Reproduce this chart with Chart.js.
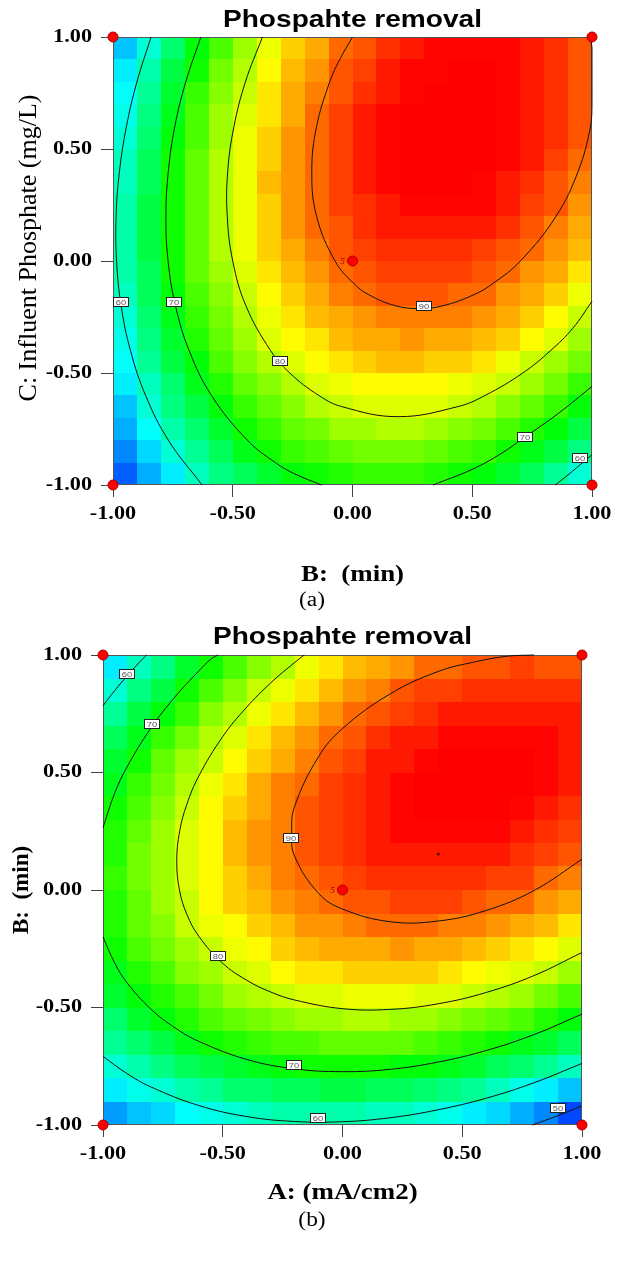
<!DOCTYPE html>
<html>
<head>
<meta charset="utf-8">
<script src="https://cdn.jsdelivr.net/npm/chart.js@4.4.1/dist/chart.umd.min.js"></script>
<style>
  html, body { margin: 0; padding: 0; background: #fff; }
  .panel { position: absolute; left: 0; }
  #wrapA { top: 0; }
  #wrapB { top: 620px; }
</style>
</head>
<body>
<div class="panel" id="wrapA"><canvas id="chartA" width="624" height="620"></canvas></div>
<div class="panel" id="wrapB"><canvas id="chartB" width="624" height="643"></canvas></div>
<script>
// ---- data (coded factor levels -1..1) ----
const tickVals = [-1, -0.5, 0, 0.5, 1];
const tickLabels = ['-1.00', '-0.50', '0.00', '0.50', '1.00'];
// centres of the 20 x 20 grid cells, same along both axes
const cellCenters = [-0.95, -0.85, -0.75, -0.65, -0.55, -0.45, -0.35, -0.25, -0.15, -0.05,
                      0.05, 0.15, 0.25, 0.35, 0.45, 0.55, 0.65, 0.75, 0.85, 0.95];

// (a) phosphate removal %, rows from top (C = 0.95) to bottom (C = -0.95), columns B = -0.95 .. 0.95
const removalA = [
  [55, 60, 65, 70, 74, 78, 82, 85, 87, 90, 91, 93, 94, 95, 95, 95, 95, 94, 93, 91],
  [57, 62, 67, 71, 76, 79, 83, 86, 88, 91, 92, 94, 95, 95, 96, 96, 95, 94, 93, 91],
  [58, 63, 68, 73, 77, 80, 84, 87, 89, 91, 93, 94, 95, 96, 96, 96, 95, 94, 93, 91],
  [59, 64, 69, 74, 78, 81, 84, 87, 90, 92, 94, 95, 96, 96, 96, 96, 95, 94, 93, 91],
  [60, 65, 70, 74, 78, 82, 85, 88, 90, 92, 94, 95, 96, 96, 96, 96, 95, 94, 93, 91],
  [61, 66, 71, 75, 79, 82, 85, 88, 90, 92, 94, 95, 96, 96, 96, 96, 95, 94, 92, 90],
  [61, 66, 71, 75, 79, 82, 86, 88, 90, 92, 94, 95, 96, 96, 96, 95, 94, 93, 91, 89],
  [62, 67, 71, 75, 79, 82, 85, 88, 90, 92, 93, 94, 95, 95, 95, 95, 94, 92, 91, 88],
  [62, 67, 71, 75, 79, 82, 85, 88, 90, 91, 93, 94, 94, 94, 94, 94, 93, 91, 89, 87],
  [62, 67, 71, 75, 79, 82, 85, 87, 89, 91, 92, 93, 93, 93, 93, 92, 91, 90, 88, 86],
  [62, 66, 71, 75, 78, 81, 84, 86, 88, 90, 91, 92, 92, 92, 92, 91, 90, 88, 87, 84],
  [61, 66, 70, 74, 77, 80, 83, 85, 87, 89, 90, 91, 91, 91, 90, 90, 88, 87, 85, 82],
  [60, 65, 69, 73, 76, 79, 82, 84, 86, 87, 88, 89, 89, 89, 89, 88, 87, 85, 83, 80],
  [59, 64, 68, 72, 75, 78, 81, 83, 84, 86, 87, 87, 88, 87, 87, 86, 85, 83, 81, 78],
  [58, 63, 67, 70, 74, 77, 79, 81, 83, 84, 85, 86, 86, 85, 85, 84, 82, 80, 78, 76],
  [57, 61, 65, 69, 72, 75, 77, 79, 81, 82, 83, 83, 83, 83, 82, 81, 80, 78, 76, 73],
  [55, 60, 64, 67, 70, 73, 75, 77, 79, 80, 81, 81, 81, 81, 80, 79, 77, 75, 73, 70],
  [54, 58, 62, 65, 68, 71, 73, 75, 76, 78, 78, 79, 79, 78, 77, 76, 74, 72, 70, 67],
  [52, 56, 60, 63, 66, 69, 71, 73, 74, 75, 76, 76, 76, 75, 74, 73, 71, 69, 67, 64],
  [50, 54, 57, 61, 64, 66, 68, 70, 71, 72, 73, 73, 73, 72, 71, 70, 68, 66, 63, 60]
];

// (b) rows from top (B = 0.95) to bottom (B = -0.95), columns A = -0.95 .. 0.95
const removalB = [
  [57, 61, 64, 68, 71, 74, 77, 79, 82, 84, 86, 87, 88, 90, 90, 91, 91, 92, 91, 91],
  [60, 64, 67, 71, 74, 77, 80, 82, 84, 86, 88, 89, 91, 92, 92, 93, 93, 93, 93, 93],
  [63, 67, 70, 73, 77, 79, 82, 84, 86, 88, 90, 91, 92, 93, 94, 94, 94, 94, 94, 94],
  [66, 69, 73, 76, 79, 81, 84, 86, 88, 90, 91, 93, 94, 94, 95, 95, 95, 95, 95, 94],
  [68, 71, 75, 78, 80, 83, 85, 87, 89, 91, 92, 94, 94, 95, 96, 96, 96, 96, 95, 94],
  [69, 73, 76, 79, 82, 84, 87, 89, 90, 92, 93, 94, 95, 96, 96, 96, 96, 96, 95, 94],
  [71, 74, 77, 80, 83, 85, 87, 89, 91, 92, 93, 94, 95, 96, 96, 96, 96, 95, 94, 93],
  [72, 75, 78, 81, 83, 86, 88, 89, 91, 92, 93, 94, 95, 95, 95, 95, 95, 94, 93, 92],
  [72, 76, 78, 81, 83, 86, 88, 89, 91, 92, 93, 94, 94, 94, 94, 94, 94, 93, 92, 91],
  [73, 76, 78, 81, 83, 85, 87, 89, 90, 91, 92, 93, 93, 93, 93, 93, 92, 92, 90, 89],
  [72, 75, 78, 80, 83, 85, 86, 88, 89, 90, 91, 91, 92, 92, 92, 91, 90, 90, 88, 87],
  [72, 75, 77, 80, 82, 83, 85, 86, 88, 88, 89, 90, 90, 90, 89, 89, 88, 87, 86, 84],
  [71, 74, 76, 78, 80, 82, 83, 85, 86, 87, 87, 87, 88, 87, 87, 86, 85, 84, 83, 81],
  [69, 72, 74, 77, 78, 80, 81, 83, 84, 84, 85, 85, 85, 85, 84, 83, 82, 81, 80, 78],
  [68, 70, 72, 74, 76, 78, 79, 80, 81, 81, 82, 82, 82, 81, 81, 80, 79, 78, 76, 74],
  [65, 68, 70, 72, 74, 75, 76, 77, 78, 78, 79, 79, 78, 78, 77, 76, 75, 74, 72, 70],
  [63, 65, 67, 69, 71, 72, 73, 74, 74, 75, 75, 75, 75, 74, 73, 72, 71, 69, 68, 66],
  [60, 62, 64, 66, 67, 68, 69, 70, 71, 71, 71, 71, 70, 70, 69, 68, 66, 65, 63, 61],
  [57, 59, 60, 62, 63, 65, 65, 66, 66, 67, 67, 66, 66, 65, 64, 63, 61, 59, 57, 55],
  [53, 55, 56, 58, 59, 60, 61, 62, 62, 62, 62, 61, 61, 60, 59, 57, 56, 54, 52, 49]
];

// contour lines, [x, y] in coded units
const a60left = [[-0.841, 1], [-0.9, 0.8], [-0.944, 0.6], [-0.973, 0.4], [-0.987, 0.2], [-0.985, 0],
                 [-0.966, -0.2], [-0.927, -0.4], [-0.864, -0.6], [-0.769, -0.8], [-0.628, -1]];
const a60right = [[0.846, -1], [0.9, -0.955], [0.95, -0.91], [1.0, -0.865]];
const a70left = [[-0.633, 1], [-0.696, 0.8], [-0.742, 0.6], [-0.769, 0.4], [-0.779, 0.2], [-0.77, 0],
                 [-0.739, -0.2], [-0.682, -0.4], [-0.589, -0.6], [-0.439, -0.8], [-0.322, -0.9],
                 [-0.242, -0.95], [-0.129, -1]];
const a70right = [[0.336, -1], [0.5, -0.93], [0.62, -0.86], [0.72, -0.786], [0.86, -0.68], [1.0, -0.56]];
const a80 = [[-0.376, 1], [-0.447, 0.8], [-0.495, 0.6], [-0.521, 0.4], [-0.523, 0.2], [-0.5, 0],
             [-0.445, -0.2], [-0.342, -0.4], [-0.262, -0.5], [-0.141, -0.6], [-0.045, -0.65],
             [0.19, -0.695], [0.44, -0.65], [0.554, -0.6], [0.711, -0.5], [0.827, -0.4],
             [0.92, -0.3], [1.0, -0.18]];
const a90 = [[0, 1], [-0.053, 0.9], [-0.095, 0.8], [-0.15, 0.6], [-0.17, 0.4], [-0.15, 0.2],
             [-0.073, 0], [0.005, -0.1], [0.067, -0.15], [0.18, -0.2], [0.28, -0.212],
             [0.377, -0.2], [0.508, -0.15], [0.587, -0.1], [0.701, 0], [0.85, 0.2],
             [0.942, 0.4], [0.994, 0.6], [1.0, 0.7], [1.0, 0.95], [0.99, 1]];
const tagsA = [[-0.968, -0.184, '60'], [-0.746, -0.184, '70'], [-0.304, -0.446, '80'],
               [0.299, -0.2, '90'], [0.72, -0.786, '70'], [0.95, -0.88, '60']];

const b60top = [[-0.818, 1], [-0.85, 0.967], [-0.9, 0.91], [-0.95, 0.85], [-1, 0.784]];
const b60bottom = [[-1, -0.708], [-0.9, -0.781], [-0.8, -0.838], [-0.6, -0.917], [-0.4, -0.964],
                   [-0.2, -0.985], [0, -0.986], [0.2, -0.969], [0.4, -0.935], [0.6, -0.886],
                   [0.8, -0.82], [1, -0.738]];
const b70top = [[-0.52, 1], [-0.55, 0.982], [-0.6, 0.932], [-0.7, 0.821], [-0.8, 0.689],
                [-0.9, 0.523], [-0.95, 0.415], [-1, 0.266]];
const b70bottom = [[-1, -0.2], [-0.95, -0.313], [-0.9, -0.394], [-0.8, -0.507], [-0.7, -0.586],
                   [-0.6, -0.644], [-0.4, -0.721], [-0.2, -0.761], [0, -0.773], [0.2, -0.763],
                   [0.4, -0.732], [0.6, -0.683], [0.8, -0.615], [1, -0.528]];
const b80 = [[-0.16, 1], [-0.2, 0.968], [-0.3, 0.881], [-0.4, 0.778], [-0.5, 0.653], [-0.6, 0.485],
             [-0.65, 0.364], [-0.68, 0.25], [-0.692, 0.12], [-0.68, -0.004], [-0.65, -0.103],
             [-0.6, -0.197], [-0.5, -0.312], [-0.4, -0.384], [-0.3, -0.434], [-0.2, -0.468],
             [0, -0.505], [0.2, -0.508], [0.4, -0.484], [0.6, -0.436], [0.8, -0.364], [1, -0.266]];
const b90 = [[0.8, 1.0], [0.69, 0.995], [0.55, 0.97], [0.4, 0.93], [0.2, 0.835], [0, 0.687],
             [-0.1, 0.567], [-0.2, 0.356], [-0.212, 0.25], [-0.2, 0.144], [-0.1, -0.014],
             [0, -0.081], [0.2, -0.135], [0.4, -0.132], [0.6, -0.087], [0.8, -0.002], [1, 0.131]];
const b50 = [[0.793, -1], [0.9, -0.96], [1, -0.919]];
const tagsB = [[-0.9, 0.919, '60'], [-0.797, 0.706, '70'], [-0.215, 0.22, '90'], [-0.519, -0.28, '80'],
               [-0.201, -0.745, '70'], [-0.101, -0.97, '60'], [0.9, -0.926, '50']];

// design points (factorial corners + centre) and the number of centre runs
const designPoints = [[-1, -1], [1, -1], [-1, 1], [1, 1], [0, 0]];
const centerRuns = '5';
const optimumB = [[0.4, 0.153]];

const SERIF = '"Liberation Serif", "Times New Roman", serif';
const SANS = '"Liberation Sans", Arial, sans-serif';
const TEXT_STRETCH = 1.17;   // the source figure's lettering is widened horizontally

function pts(list) {
  return list.map(([x, y]) => ({ x, y }));
}

// blue (low) -> cyan -> green -> yellow -> red (high)
function shade(v, lo, hi) {
  const t = Math.min(1, Math.max(0, (v - lo) / (hi - lo)));
  return 'hsl(' + Math.round(230 * (1 - t)) + ', 100%, 50%)';
}

// widen upright text on this canvas (rotated axis titles are left alone)
function widenText(ctx, k) {
  const plain = ctx.fillText;
  ctx.fillText = function (text, x, y) {
    const m = this.getTransform();
    if (m.b !== 0 || m.c !== 0) return plain.call(this, text, x, y);
    this.save();
    this.translate(x, y);
    this.scale(k, 1);
    plain.call(this, text, 0, 0);
    this.restore();
  };
}

function contourSet(list) {
  return {
    data: pts(list), showLine: true, borderColor: '#111', borderWidth: 1,
    pointRadius: 0, pointHoverRadius: 0, tension: 0.4, clip: 1
  };
}

function buildPanel(id, o) {
  const canvas = document.getElementById(id);
  const W = canvas.width, H = canvas.height;
  widenText(canvas.getContext('2d'), TEXT_STRETCH);

  const surface = {
    id: 'surface',
    beforeDatasetsDraw(chart) {
      const { ctx, chartArea: ca, scales: { x, y } } = chart;
      const half = (cellCenters[1] - cellCenters[0]) / 2;
      const n = cellCenters.length;
      ctx.save();
      o.grid.forEach((row, r) => {
        const cy = cellCenters[n - 1 - r];
        const top = Math.round(y.getPixelForValue(cy + half));
        const bot = Math.round(y.getPixelForValue(cy - half));
        row.forEach((v, c) => {
          const cx = cellCenters[c];
          const l = Math.round(x.getPixelForValue(cx - half));
          const rr = Math.round(x.getPixelForValue(cx + half));
          ctx.fillStyle = shade(v, o.lo, o.hi);
          ctx.fillRect(l, top, rr - l, bot - top);
        });
      });
      ctx.strokeStyle = '#555';
      ctx.lineWidth = 1;
      ctx.strokeRect(ca.left + 0.5, ca.top + 0.5, ca.width - 1, ca.height - 1);
      ctx.restore();
    },
    afterDatasetsDraw(chart) {
      const { ctx, scales: { x, y } } = chart;
      ctx.save();
      ctx.font = '8px ' + SANS;
      ctx.textAlign = 'center';
      ctx.textBaseline = 'middle';
      o.tags.forEach(([vx, vy, txt]) => {
        const px = Math.round(x.getPixelForValue(vx));
        const py = Math.round(y.getPixelForValue(vy));
        ctx.fillStyle = '#fff';
        ctx.fillRect(px - 8, py - 5, 16, 10);
        ctx.strokeStyle = '#222';
        ctx.lineWidth = 1;
        ctx.strokeRect(px - 7.5, py - 4.5, 15, 9);
        ctx.fillStyle = '#555';
        ctx.fillText(txt, px, py + 0.5);
      });
      ctx.font = 'italic 8px ' + SERIF;
      ctx.fillStyle = '#900';
      ctx.fillText(centerRuns, x.getPixelForValue(0) - 10, y.getPixelForValue(0) + 1);
      ctx.restore();
    },
    afterDraw(chart) {
      const ctx = chart.ctx;
      ctx.save();
      ctx.font = '20px ' + SERIF;
      ctx.fillStyle = '#000';
      ctx.textAlign = 'center';
      ctx.textBaseline = 'middle';
      ctx.fillText(o.caption, W / 2, o.captionY);
      ctx.restore();
    }
  };

  const axisBase = {
    type: 'linear', min: -1, max: 1,
    afterBuildTicks: s => { s.ticks = tickVals.map(v => ({ value: v })); },
    ticks: {
      callback: (v, i) => tickLabels[i],
      font: { family: SERIF, size: 19, weight: 'bold' },
      color: '#000', padding: 9, autoSkip: false, maxRotation: 0
    },
    grid: { drawOnChartArea: false, drawTicks: true, tickLength: 12, color: '#444' },
    border: { display: false }
  };

  const datasets = [
    { data: pts(designPoints), pointRadius: 5, pointHoverRadius: 5, pointBackgroundColor: '#f00',
      pointBorderColor: '#a00', pointBorderWidth: 1, clip: false }
  ];
  if (o.extra) {
    datasets.push({ data: pts(o.extra), pointRadius: 1.5, pointBackgroundColor: '#500',
      pointBorderWidth: 0, clip: false });
  }
  o.contours.forEach(c => datasets.push(contourSet(c)));

  return new Chart(canvas, {
    type: 'scatter',
    data: { datasets },
    options: {
      responsive: false,
      animation: false,
      events: [],
      layout: { padding: { left: 0, right: W - o.right, top: 0, bottom: 0 } },
      plugins: {
        legend: { display: false },
        tooltip: { enabled: false },
        title: {
          display: true, fullSize: false, text: 'Phospahte removal', color: '#000',
          font: { family: SANS, size: 24, weight: 'bold' },
          padding: { top: o.titleTop, bottom: o.titleBottom }
        }
      },
      scales: {
        x: Object.assign({}, axisBase, {
          afterFit: s => { s.height = H - o.bottom; },
          ticks: Object.assign({}, axisBase.ticks, { padding: 6 }),
          title: {
            display: true, text: o.xTitle, color: '#000',
            font: { family: SERIF, size: 23, weight: 'bold' },
            padding: { top: 0, bottom: o.xTitlePad }
          }
        }),
        y: Object.assign({}, axisBase, {
          afterFit: s => { s.width = o.left; },
          title: {
            display: true, text: o.yTitle, color: '#000',
            font: { family: SERIF, size: o.ySize, weight: o.yBold ? 'bold' : 'normal' },
            padding: { top: o.yTitlePad, bottom: 0 }
          }
        })
      }
    },
    plugins: [surface]
  });
}

buildPanel('chartA', {
  grid: removalA, lo: 47.5, hi: 95.2,
  contours: [a60left, a60right, a70left, a70right, a80, a90],
  tags: tagsA,
  left: 113, right: 592, bottom: 485,
  titleTop: 5.6, titleBottom: 2.6,
  xTitle: 'B:  (min)', xTitlePad: 31.2,
  yTitle: '    C: Influent Phosphate (mg/L)', yBold: false, ySize: 26, yTitlePad: 13.4,
  caption: '(a)', captionY: 601
});

buildPanel('chartB', {
  grid: removalB, lo: 47.5, hi: 95.2,
  contours: [b50, b60top, b60bottom, b70top, b70bottom, b80, b90],
  tags: tagsB, extra: optimumB,
  left: 103, right: 582, bottom: 505,
  titleTop: 2.6, titleBottom: 3.6,
  xTitle: 'A: (mA/cm2)', xTitlePad: 56.2,
  yTitle: 'B:  (min)', yBold: true, ySize: 23, yTitlePad: 8.2,
  caption: '(b)', captionY: 601
});
</script>
</body>
</html>
